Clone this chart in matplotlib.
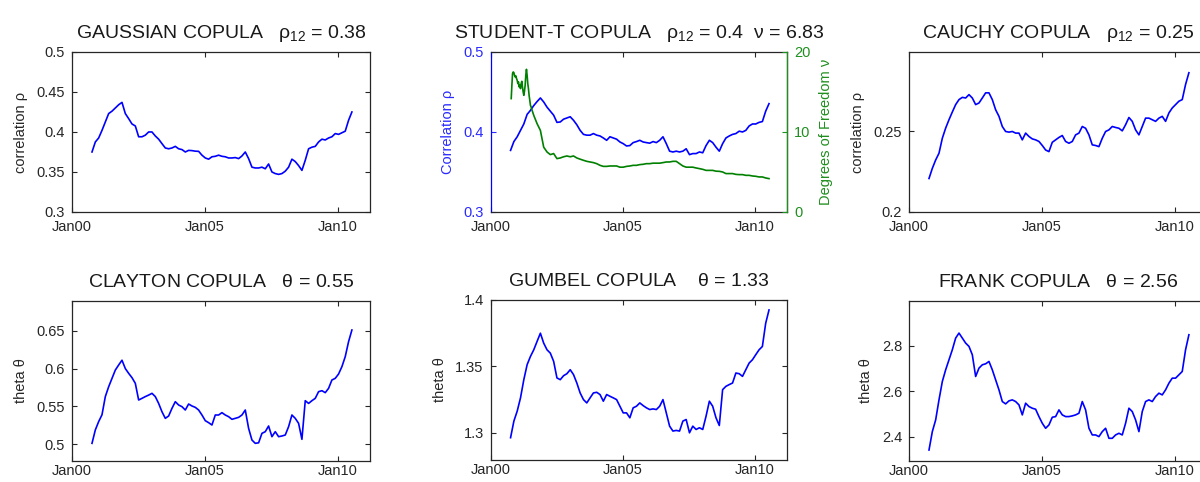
import numpy as np
import matplotlib
matplotlib.use("Agg")
import matplotlib.pyplot as plt

plt.rcParams['font.family'] = ['Liberation Sans', 'DejaVu Sans']
plt.rcParams['mathtext.fontset'] = 'custom'
plt.rcParams['mathtext.rm'] = 'Liberation Sans'
plt.rcParams['mathtext.it'] = 'Liberation Sans'
plt.rcParams['mathtext.bf'] = 'Liberation Sans:bold'

# ---------------- data ----------------
# common sampling dates (decimal years), Oct 2000 .. Jul 2010
years = np.linspace(2000.753, 2010.540, 79)
x_ticks = [2000, 2005, 2010]
x_ticklabels = ['Jan00', 'Jan05', 'Jan10']

gauss_rho = [0.375, 0.3875, 0.3925, 0.402, 0.4125, 0.423, 0.426, 0.430, 0.434, 0.437,
             0.423, 0.4167, 0.410, 0.4075, 0.394, 0.394, 0.396, 0.400, 0.400, 0.395,
             0.391, 0.3854, 0.380, 0.379, 0.380, 0.382, 0.379, 0.378, 0.375, 0.377,
             0.3767, 0.376, 0.3758, 0.371, 0.3675, 0.366, 0.369, 0.3696, 0.371, 0.3696,
             0.369, 0.3675, 0.3675, 0.368, 0.3667, 0.370, 0.375, 0.3667, 0.356, 0.355,
             0.355, 0.356, 0.354, 0.360, 0.350, 0.348, 0.347, 0.348, 0.351, 0.356,
             0.366, 0.363, 0.358, 0.352, 0.3646, 0.379, 0.381, 0.382, 0.3875, 0.391,
             0.390, 0.3925, 0.394, 0.398, 0.397, 0.399, 0.401, 0.4146, 0.425]

t_rho = [0.377, 0.388, 0.394, 0.402, 0.410, 0.422, 0.427, 0.433, 0.438, 0.4425,
         0.4375, 0.431, 0.426, 0.421, 0.412, 0.4125, 0.416, 0.4175, 0.419, 0.4146,
         0.409, 0.402, 0.397, 0.396, 0.396, 0.398, 0.396, 0.395, 0.3925, 0.3896,
         0.394, 0.3925, 0.391, 0.3875, 0.3854, 0.3825, 0.383, 0.3867, 0.388, 0.3896,
         0.3875, 0.3867, 0.386, 0.388, 0.3867, 0.3896, 0.394, 0.3854, 0.376, 0.375,
         0.376, 0.375, 0.376, 0.379, 0.3717, 0.373, 0.373, 0.375, 0.374, 0.383,
         0.3896, 0.3867, 0.381, 0.376, 0.3854, 0.3925, 0.395, 0.397, 0.398, 0.401,
         0.400, 0.402, 0.4075, 0.410, 0.410, 0.412, 0.413, 0.426, 0.4354]

dof_early_years = [2000.778, 2000.803, 2000.828, 2000.853, 2000.878, 2000.903, 2000.928,
                   2000.954, 2000.979, 2001.004, 2001.029, 2001.054, 2001.079, 2001.104,
                   2001.129, 2001.154, 2001.179, 2001.205, 2001.230, 2001.255, 2001.280,
                   2001.305, 2001.330, 2001.355, 2001.380, 2001.405, 2001.430, 2001.455,
                   2001.481, 2001.506, 2001.531, 2001.568, 2001.631]
dof_early = [14.17, 15.83, 17.29, 17.5, 17.42, 17.08, 16.88, 17.0, 16.67, 16.46,
             16.04, 16.25, 15.63, 15.83, 15.42, 16.04, 16.33, 15.63, 15.0, 14.58,
             15.08, 15.83, 17.08, 17.83, 17.08, 16.04, 15.42, 14.58, 13.96, 13.33,
             13.13, 12.71, 12.08]
dof_late = [11.04, 10.2, 8.1, 7.5, 7.17, 7.3, 6.67, 6.75, 6.9, 7.0,
            6.9, 7.0, 6.75, 6.6, 6.46, 6.33, 6.25, 6.17, 6.04, 5.83,
            5.7, 5.7, 5.75, 5.75, 5.75, 5.6, 5.6, 5.7, 5.75, 5.83,
            5.83, 5.92, 5.96, 6.04, 6.04, 6.1, 6.1, 6.1, 6.17, 6.25,
            6.25, 6.33, 6.33, 6.04, 5.75, 5.6, 5.6, 5.6, 5.5, 5.42,
            5.33, 5.2, 5.2, 5.2, 5.1, 5.08, 5.0, 4.8, 4.8, 4.8,
            4.7, 4.67, 4.67, 4.58, 4.58, 4.5, 4.46, 4.38, 4.38, 4.25, 4.17]

cauchy_rho = [0.2208, 0.2271, 0.2323, 0.2365, 0.2458, 0.2521, 0.2573, 0.2621, 0.2667, 0.2698,
              0.2712, 0.2708, 0.2729, 0.2708, 0.2667, 0.2677, 0.2708, 0.274, 0.274, 0.2698,
              0.2635, 0.2594, 0.2531, 0.25, 0.2496, 0.25, 0.249, 0.249, 0.2448, 0.249,
              0.2469, 0.2454, 0.2448, 0.2438, 0.2413, 0.2385, 0.2375, 0.2433, 0.2448, 0.2463,
              0.2475, 0.2438, 0.2427, 0.2438, 0.2479, 0.249, 0.2531, 0.252, 0.2479, 0.2417,
              0.2413, 0.2406, 0.2458, 0.25, 0.251, 0.2531, 0.2525, 0.252, 0.2504, 0.2542,
              0.2587, 0.2563, 0.251, 0.2479, 0.2531, 0.2583, 0.2583, 0.2573, 0.2563, 0.2583,
              0.2594, 0.2563, 0.2615, 0.2646, 0.2667, 0.2688, 0.2698, 0.2792, 0.2865]

clayton_theta = [0.5013, 0.519, 0.530, 0.539, 0.563, 0.576, 0.587, 0.598, 0.6047, 0.611,
                 0.600, 0.5937, 0.588, 0.5805, 0.5585, 0.5607, 0.563, 0.565, 0.5673, 0.563,
                 0.554, 0.543, 0.5343, 0.5374, 0.5475, 0.5563, 0.5519, 0.5497, 0.5453, 0.5532,
                 0.5506, 0.5488, 0.5453, 0.5387, 0.5312, 0.5286, 0.5255, 0.5387, 0.5387, 0.5418,
                 0.5387, 0.5365, 0.533, 0.5343, 0.5356, 0.5387, 0.5453, 0.5211, 0.5057, 0.5013,
                 0.502, 0.5145, 0.5167, 0.5242, 0.5101, 0.5167, 0.5101, 0.511, 0.5123, 0.5233,
                 0.5387, 0.5343, 0.5277, 0.5066, 0.5576, 0.554, 0.5576, 0.5607, 0.5695, 0.5708,
                 0.5682, 0.5739, 0.5849, 0.5871, 0.5928, 0.6025, 0.6157, 0.6355, 0.6509]

gumbel_theta = [1.2963, 1.3088, 1.3163, 1.3263, 1.34, 1.3513, 1.3575, 1.3625, 1.3688, 1.375,
                1.3675, 1.3625, 1.36, 1.3538, 1.3413, 1.34, 1.343, 1.3445, 1.3475, 1.3438,
                1.3375, 1.33, 1.325, 1.3225, 1.3263, 1.33, 1.3305, 1.3288, 1.3238, 1.3288,
                1.3275, 1.3263, 1.325, 1.32, 1.315, 1.315, 1.3113, 1.3188, 1.32, 1.3225,
                1.3205, 1.3188, 1.3175, 1.318, 1.3175, 1.32, 1.325, 1.315, 1.305, 1.3013,
                1.3018, 1.3013, 1.3088, 1.31, 1.30, 1.305, 1.3025, 1.3038, 1.3025, 1.3125,
                1.3238, 1.32, 1.3113, 1.3055, 1.3325, 1.335, 1.3363, 1.3375, 1.345, 1.3445,
                1.3425, 1.3475, 1.3525, 1.355, 1.3588, 1.3625, 1.365, 1.3825, 1.3925]

frank_theta = [2.341, 2.422, 2.4735, 2.5618, 2.6426, 2.6941, 2.7382, 2.7824, 2.8338, 2.8559,
               2.8338, 2.8118, 2.7971, 2.7603, 2.6647, 2.7015, 2.7162, 2.7206, 2.7309, 2.6941,
               2.65, 2.6059, 2.5544, 2.5441, 2.5574, 2.5618, 2.5544, 2.5397, 2.4956, 2.5471,
               2.5324, 2.525, 2.5206, 2.4882, 2.4588, 2.4368, 2.4515, 2.4853, 2.4882, 2.5176,
               2.4956, 2.4882, 2.4882, 2.4912, 2.4956, 2.5029, 2.5544, 2.5176, 2.4368, 2.4074,
               2.4074, 2.40, 2.422, 2.4368, 2.3926, 2.3926, 2.4074, 2.4147, 2.4074, 2.4588,
               2.525, 2.5103, 2.4735, 2.422, 2.5103, 2.5544, 2.5618, 2.5544, 2.5765, 2.5912,
               2.5838, 2.6059, 2.6353, 2.6574, 2.6574, 2.6721, 2.6868, 2.7824, 2.8485]

# ---------------- styling ----------------
DARK = '#262626'
BLUE = '#0000ff'
BLUE_TXT = '#2a2aff'
GREEN = '#008000'
GREEN_TXT = '#1f8f1f'
TICK_FS = 10.5
LABEL_FS = 10.5
TITLE_FS = 14
XLIM = (2000, 2011.22)
LW = 1.2

fig = plt.figure(figsize=(12, 4.82), dpi=100)

W = 0.2483
H = 0.332
pos = {
    'gauss': [0.0600, 0.5602, W, H],
    't': [0.4089, 0.5602, 0.2469, H],
    'cauchy': [0.7575, 0.5602, W, H],
    'clayton': [0.0600, 0.0442, W, H],
    'gumbel': [0.4089, 0.0456, 0.2469, H],
    'frank': [0.7575, 0.0442, W, H],
}


def style_axes(ax, title, ylabel, ylim, yticks, ytl, xpad):
    ax.set_xlim(*XLIM)
    ax.set_ylim(*ylim)
    ax.set_xticks(x_ticks)
    ax.set_xticklabels(x_ticklabels)
    ax.set_yticks(yticks)
    ax.set_yticklabels(ytl)
    ax.tick_params(direction='in', length=3.5, width=0.8, colors=DARK,
                   labelsize=TICK_FS, top=True, right=True, pad=5)
    ax.tick_params(axis='x', pad=xpad)
    for sp in ax.spines.values():
        sp.set_color(DARK)
        sp.set_linewidth(0.9)
    ax.set_title(title, fontsize=TITLE_FS, color='#1a1a1a', pad=10)
    ax.set_ylabel(ylabel, fontsize=LABEL_FS, color=DARK, labelpad=6)


TOP_XPAD = 6
BOT_XPAD = 2.5

# Gaussian
ax = fig.add_axes(pos['gauss'])
ax.plot(years, gauss_rho, color=BLUE, lw=LW)
style_axes(ax, r'GAUSSIAN COPULA   $\rho_{12}$ = 0.38', 'correlation ρ',
           (0.3, 0.5), [0.3, 0.35, 0.4, 0.45, 0.5], ['0.3', '0.35', '0.4', '0.45', '0.5'],
           TOP_XPAD)

# Student-t (two y axes)
ax = fig.add_axes(pos['t'])
ax.plot(years, t_rho, color=BLUE, lw=LW)
ax.set_xlim(*XLIM)
ax.set_ylim(0.3, 0.5)
ax.set_xticks(x_ticks)
ax.set_xticklabels(x_ticklabels)
ax.set_yticks([0.3, 0.4, 0.5])
ax.set_yticklabels(['0.3', '0.4', '0.5'])
ax.tick_params(direction='in', length=3.5, width=0.8, labelsize=TICK_FS,
               top=True, right=False, pad=5)
ax.tick_params(axis='x', colors=DARK, pad=TOP_XPAD)
ax.tick_params(axis='y', colors=BLUE_TXT)
for k, sp in ax.spines.items():
    sp.set_color(DARK)
    sp.set_linewidth(0.9)
ax.spines['left'].set_color(BLUE)
ax.set_title(r'STUDENT-T COPULA   $\rho_{12}$ = 0.4  $\nu$ = 6.83',
             fontsize=TITLE_FS, color='#1a1a1a', pad=10)
ax.set_ylabel('Correlation ρ', fontsize=LABEL_FS, color=BLUE_TXT, labelpad=6)

ax2 = ax.twinx()
ax2.plot(dof_early_years + list(years[8:]), dof_early + dof_late, color=GREEN, lw=LW)
ax2.set_xlim(*XLIM)
ax2.set_ylim(0, 20)
ax2.set_yticks([0, 10, 20])
ax2.set_yticklabels(['0', '10', '20'])
ax2.tick_params(direction='in', length=3.5, width=0.8, labelsize=TICK_FS,
                colors=GREEN_TXT, pad=5)
for k in ['left', 'top', 'bottom']:
    ax2.spines[k].set_visible(False)
ax2.spines['right'].set_color(GREEN_TXT)
ax2.spines['right'].set_linewidth(0.9)
ax2.set_ylabel('Degrees of Freedom ν', fontsize=LABEL_FS, color=GREEN_TXT,
               rotation=90, labelpad=6)

# Cauchy
ax = fig.add_axes(pos['cauchy'])
ax.plot(years, cauchy_rho, color=BLUE, lw=LW)
style_axes(ax, r'CAUCHY COPULA   $\rho_{12}$ = 0.25', 'correlation ρ',
           (0.2, 0.2994), [0.2, 0.25], ['0.2', '0.25'], TOP_XPAD)

# Clayton
ax = fig.add_axes(pos['clayton'])
ax.plot(years, clayton_theta, color=BLUE, lw=LW)
style_axes(ax, r'CLAYTON COPULA   $\theta$ = 0.55', 'theta θ',
           (0.4784, 0.6896), [0.5, 0.55, 0.6, 0.65], ['0.5', '0.55', '0.6', '0.65'],
           BOT_XPAD)

# Gumbel
ax = fig.add_axes(pos['gumbel'])
ax.plot(years, gumbel_theta, color=BLUE, lw=LW)
style_axes(ax, r'GUMBEL COPULA    $\theta$ = 1.33', 'theta θ',
           (1.2795, 1.4), [1.3, 1.35, 1.4], ['1.3', '1.35', '1.4'], BOT_XPAD)

# Frank
ax = fig.add_axes(pos['frank'])
ax.plot(years, frank_theta, color=BLUE, lw=LW)
style_axes(ax, r'FRANK COPULA   $\theta$ = 2.56', 'theta θ',
           (2.294, 2.9985), [2.4, 2.6, 2.8], ['2.4', '2.6', '2.8'], BOT_XPAD)

fig.savefig('out.png', dpi=100)
